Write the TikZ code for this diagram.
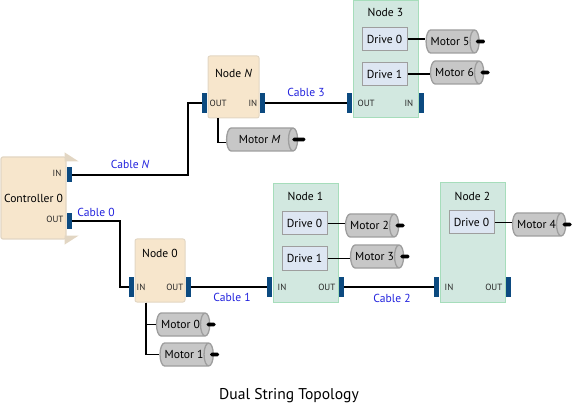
\documentclass[tikz,border=0pt]{standalone}
\usepackage{fontspec}
\setmainfont{PT Sans}
\usepackage{tikz}
\usetikzlibrary{shapes.geometric, arrows, positioning}
\definecolor{tanfill}{HTML}{F7E6CC}
\definecolor{tanline}{HTML}{E2D6C3}
\definecolor{greenfill}{HTML}{D2E8E0}
\definecolor{greenline}{HTML}{A6DDBB}
\definecolor{drivefill}{HTML}{DDE6F2}
\definecolor{portblue}{HTML}{0C4A80}
\definecolor{cableblue}{HTML}{2222DD}
\tikzstyle{ctrlbox} = [rectangle, rounded corners=2pt, minimum width=65pt, minimum height=82pt, inner sep=0pt, line width=1.2pt, draw=tanline, fill=tanfill, font=\fontsize{11.6}{13}\selectfont]
\tikzstyle{tanbox} = [rectangle, rounded corners=2pt, inner sep=0pt, line width=1pt, draw=tanline, fill=tanfill]
\tikzstyle{greenbox} = [rectangle, minimum width=65pt, inner sep=0pt, line width=1pt, draw=greenline, fill=greenfill]
\tikzstyle{drivebox} = [rectangle, minimum width=45pt, minimum height=23pt, inner sep=0pt, line width=1pt, draw=black!38, fill=drivefill, font=\fontsize{11.6}{13}\selectfont]
\tikzstyle{motorbox} = [cylinder, aspect=1.1, minimum width=23pt, minimum height=53pt, inner sep=0pt, xshift=-2.5pt, line width=1.3pt, draw=black!38, cylinder uses custom fill, cylinder body fill=black!22, cylinder end fill=black!22, font=\fontsize{11.6}{13}\selectfont]
\tikzstyle{shaft} = [rectangle, rounded corners=1.5pt, minimum width=9pt, minimum height=3.6pt, inner sep=0pt, fill=black]
\tikzstyle{portbox} = [rectangle, minimum width=5pt, minimum height=20pt, inner sep=0pt, fill=portblue]
\tikzstyle{portlabel} = [inner sep=0pt, font=\fontsize{9}{10}\selectfont, text=black!85]
\tikzstyle{title} = [inner sep=0pt, font=\fontsize{11.6}{13}\selectfont]
\tikzstyle{cable} = [inner sep=0pt, text=cableblue, font=\fontsize{11.6}{13}\selectfont]
\tikzstyle{wire} = [line width=1.8pt, draw=black]

\begin{document}
\begin{tikzpicture}[x=1pt, y=1pt]
            \useasboundingbox (0,0) rectangle (573,-406);

            % Nodes
            \node (ctrl) [ctrlbox] at (33.5,-198) {Controller 0};
            \fill [tanline] ([xshift=-2pt,yshift=4pt]ctrl.north east) -- ++(14,-9) -- ++(-14,0) -- cycle;
            \fill [tanline] ([xshift=-2pt,yshift=-5pt]ctrl.south east) -- ++(14,9) -- ++(-14,0) -- cycle;

            \node (nodeN) [tanbox, minimum width=51pt, minimum height=62pt, right of=ctrl, node distance=200pt, yshift=111pt] {};
            \node (node3) [greenbox, minimum height=117pt, right of=nodeN, node distance=152pt, yshift=27.5pt] {};
            \node (node0) [tanbox, minimum width=50pt, minimum height=63pt, right of=ctrl, node distance=126.5pt, yshift=-72.5pt] {};
            \node (node1) [greenbox, minimum height=118pt, right of=node0, node distance=145.5pt, yshift=27.5pt] {};
            \node (node2) [greenbox, minimum height=119pt, right of=node1, node distance=167pt, yshift=0.5pt] {};

            \node (nodeNt) [title, yshift=-18pt] at (nodeN.north) {Node $\mathit{N}$};
            \node (node3t) [title, yshift=-12pt] at (node3.north) {Node 3};
            \node (node0t) [title, yshift=-15pt] at (node0.north) {Node 0};
            \node (node1t) [title, yshift=-13pt] at (node1.north) {Node 1};
            \node (node2t) [title, yshift=-14pt] at (node2.north) {Node 2};

            % Ports
            \node (ctrlin) [portbox, minimum height=15pt, right=0pt of ctrl.east, yshift=23pt] {};
            \node (ctrlout) [portbox, minimum height=16pt, right=0pt of ctrl.east, yshift=-23pt] {};
            \node (nodeNout) [portbox, above left=5pt and 0pt of nodeN.south west] {};
            \node (nodeNin) [portbox, above right=5pt and 0pt of nodeN.south east] {};
            \node (node3out) [portbox, above left=5pt and 0pt of node3.south west] {};
            \node (node3in) [portbox, above right=5pt and 0pt of node3.south east] {};
            \node (node0in) [portbox, above left=5pt and 0pt of node0.south west] {};
            \node (node0out) [portbox, above right=5pt and 0pt of node0.south east] {};
            \node (node1in) [portbox, above left=5pt and 0pt of node1.south west] {};
            \node (node1out) [portbox, above right=5pt and 0pt of node1.south east] {};
            \node (node2in) [portbox, above left=5pt and 0pt of node2.south west] {};
            \node (node2out) [portbox, above right=5pt and 0pt of node2.south east] {};

            \node (ctrlinl) [portlabel, left=5pt of ctrlin, yshift=2pt] {IN};
            \node (ctrloutl) [portlabel, left=3pt of ctrlout, yshift=2pt] {OUT};
            \node (nodeNoutl) [portlabel, right=2pt of nodeNout] {OUT};
            \node (nodeNinl) [portlabel, left=2pt of nodeNin] {IN};
            \node (node3outl) [portlabel, right=5pt of node3out] {OUT};
            \node (node3inl) [portlabel, left=5pt of node3in] {IN};
            \node (node0inl) [portlabel, right=2pt of node0in] {IN};
            \node (node0outl) [portlabel, left=2pt of node0out] {OUT};
            \node (node1inl) [portlabel, right=5pt of node1in] {IN};
            \node (node1outl) [portlabel, left=3pt of node1out] {OUT};
            \node (node2inl) [portlabel, right=5pt of node2in] {IN};
            \node (node2outl) [portlabel, left=3pt of node2out] {OUT};

            % Drives
            \node (n3drive0) [drivebox, above of=node3, node distance=20.5pt, xshift=-1pt] {Drive 0};
            \node (n3drive1) [drivebox, below of=node3, node distance=14.5pt, xshift=-1pt] {Drive 1};
            \node (n1drive0) [drivebox, above of=node1, node distance=19.5pt, xshift=-1pt] {Drive 0};
            \node (n1drive1) [drivebox, below of=node1, node distance=15.5pt, xshift=-1pt] {Drive 1};
            \node (n2drive0) [drivebox, above of=node2, node distance=20pt, xshift=-1pt] {Drive 0};

            % Motors
            \node (motor5) [motorbox, right of=n3drive0, node distance=68pt, yshift=-2.5pt] {Motor 5};
            \node (motor6) [motorbox, right of=n3drive1, node distance=72.5pt, yshift=1.5pt] {Motor 6};
            \node (motor2) [motorbox, right of=n1drive0, node distance=67.5pt, yshift=-2pt] {Motor 2};
            \node (motor3) [motorbox, right of=n1drive1, node distance=72.5pt, yshift=2pt] {Motor 3};
            \node (motor4) [motorbox, right of=n2drive0, node distance=67.5pt, yshift=-2pt] {Motor 4};
            \node (motorM) [motorbox, minimum height=71pt, below of=nodeN, node distance=52.5pt, xshift=28.5pt] {Motor $\mathit{M}$};
            \node (motor0) [motorbox, below of=node0, node distance=54pt, xshift=23pt] {Motor 0};
            \node (motor1) [motorbox, below of=motor0, node distance=30pt, xshift=6pt] {Motor 1};

            \node (shaft5) [shaft, right=-4pt of motor5.east] {};
            \node (shaft6) [shaft, right=-4pt of motor6.east] {};
            \node (shaft2) [shaft, right=-4pt of motor2.east] {};
            \node (shaft3) [shaft, right=-4pt of motor3.east] {};
            \node (shaft4) [shaft, right=-4pt of motor4.east] {};
            \node (shaftM) [shaft, minimum width=13pt, right=-6pt of motorM.east] {};
            \node (shaft0) [shaft, right=-4pt of motor0.east] {};
            \node (shaft1) [shaft, right=-4pt of motor1.east] {};

            \node (caption) [font=\fontsize{15.6}{18}\selectfont] at (289,-396) {Dual String Topology};

            % Edges
            \draw [wire] (ctrlin.east) -| node[cable, above, pos=0.25, yshift=5pt] {Cable $\mathit{N}$} ([xshift=-14pt]nodeNout.west) -- (nodeNout.west);
            \draw [wire] (nodeNin.east) -- node[cable, above, yshift=6pt] {Cable 3} (node3out.west);
            \draw [wire] (ctrlout.east) -| node[cable, above, pos=0.25, yshift=3pt] {Cable 0} ([xshift=-9pt]node0in.west) -- (node0in.west);
            \draw [wire] (node0out.east) -- node[cable, below, yshift=-5pt, xshift=3pt] {Cable 1} (node1in.west);
            \draw [wire] (node1out.east) -- node[cable, below, yshift=-6pt, xshift=3pt] {Cable 2} (node2in.west);

            \draw [wire] (n3drive0.east) -- (n3drive0.east -| motor5.west);
            \draw [wire] (n3drive1.east) -- (n3drive1.east -| motor6.west);
            \draw [wire] (n1drive0.east) -- (n1drive0.east -| motor2.west);
            \draw [wire] (n1drive1.east) -- (n1drive1.east -| motor3.west);
            \draw [wire] (n2drive0.east) -- (n2drive0.east -| motor4.west);

            \draw [wire] ([xshift=-15.5pt]nodeN.south) |- ([yshift=-3pt]motorM.west);
            \draw [wire] ([xshift=-14pt]node0.south) |- (motor0.west);
            \draw [wire] ([xshift=-14pt]node0.south) |- (motor1.west);

\end{tikzpicture}
\end{document}
